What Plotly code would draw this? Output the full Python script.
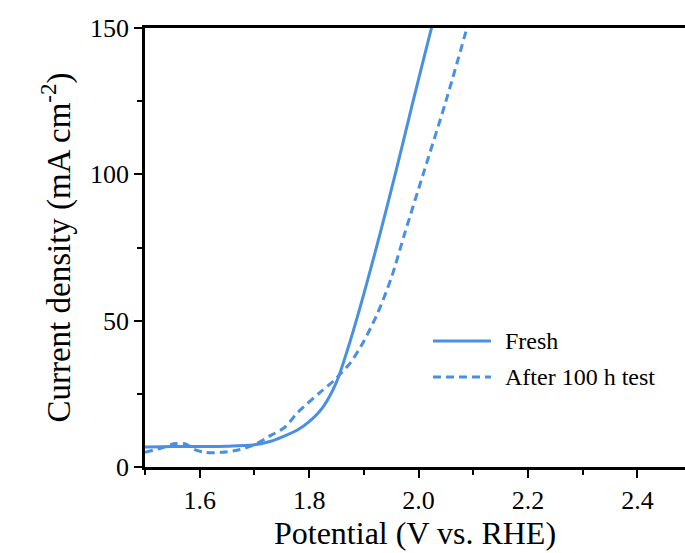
import plotly.graph_objects as go

# Data
fresh_x = [1.50, 1.55, 1.60, 1.65, 1.70, 1.73, 1.75, 1.78, 1.80, 1.825, 1.85, 1.87, 1.89, 1.91, 1.93, 1.96, 1.99, 2.01, 2.025]
fresh_y = [6.8, 7.0, 7.0, 7.1, 7.6, 8.8, 10.2, 12.8, 15.5, 20.4, 29.0, 40.0, 52.5, 66.0, 80.0, 102.0, 125.0, 140.0, 151.0]

after_x = [1.50, 1.53, 1.555, 1.575, 1.59, 1.61, 1.64, 1.67, 1.70, 1.73, 1.755, 1.78, 1.82, 1.845, 1.875, 1.90, 1.925, 1.95, 1.975, 2.01, 2.05, 2.09]
after_y = [5.0, 6.5, 8.0, 7.8, 6.0, 5.0, 5.0, 5.8, 7.6, 10.8, 13.5, 18.8, 25.5, 29.5, 35.5, 43.0, 52.5, 64.5, 80.0, 101.0, 125.0, 151.0]

series_names = ["Fresh", "After 100 h test"]
x_ticks = [1.6, 1.8, 2.0, 2.2, 2.4]
y_ticks = [0, 50, 100, 150]

COLOR = "rgb(74,144,226)"
FONT = "Liberation Serif, Times New Roman, serif"
DASH = "8px,5px"

fig = go.Figure()
fig.add_trace(go.Scatter(x=fresh_x, y=fresh_y, mode="lines", name=series_names[0],
                         line=dict(color=COLOR, width=3, shape="spline", smoothing=0.8), showlegend=False))
fig.add_trace(go.Scatter(x=after_x, y=after_y, mode="lines", name=series_names[1],
                         line=dict(color=COLOR, width=3, dash=DASH, shape="spline", smoothing=0.8), showlegend=False))

# Legend drawn manually (long line samples as in the reference)
leg = [(series_names[0], "solid", 0.287), (series_names[1], DASH, 0.205)]
for name, dash, yp in leg:
    fig.add_shape(type="line", xref="paper", yref="paper", x0=0.5333, x1=0.6407, y0=yp, y1=yp,
                  line=dict(color=COLOR, width=3, dash=dash))
    fig.add_annotation(xref="paper", yref="paper", x=0.663, y=yp, text=name, showarrow=False,
                       xanchor="left", yanchor="middle", font=dict(family=FONT, size=24, color="black"))

fig.update_layout(
    width=685, height=553,
    margin=dict(l=145, r=0, t=28, b=86),
    paper_bgcolor="white", plot_bgcolor="white",
    font=dict(family=FONT, color="black"),
    xaxis=dict(
        range=[1.5, 2.487], tickvals=x_ticks, ticktext=[f"{v:.1f}" for v in x_ticks],
        ticks="outside", ticklen=8, tickwidth=2, tickcolor="black",
        minor=dict(dtick=0.1, tick0=1.5, ticks="outside", ticklen=5, tickwidth=2, tickcolor="black"),
        showline=True, linewidth=2.5, linecolor="black", mirror=True,
        showgrid=False, zeroline=False,
        tickfont=dict(family=FONT, size=26, color="black"),
        title=dict(text="Potential (V vs. RHE)", font=dict(family=FONT, size=32, color="black"), standoff=8),
    ),
    yaxis=dict(
        range=[0, 150], tickvals=y_ticks,
        ticks="outside", ticklen=8, tickwidth=2, tickcolor="black",
        minor=dict(dtick=25, tick0=0, ticks="outside", ticklen=5, tickwidth=2, tickcolor="black"),
        showline=True, linewidth=2.5, linecolor="black", mirror=False,
        showgrid=False, zeroline=False,
        tickfont=dict(family=FONT, size=26, color="black"),
        title=dict(text="Current density (mA cm<sup>-2</sup>)", font=dict(family=FONT, size=33, color="black"), standoff=10),
    ),
)

fig.write_html("out.html")
